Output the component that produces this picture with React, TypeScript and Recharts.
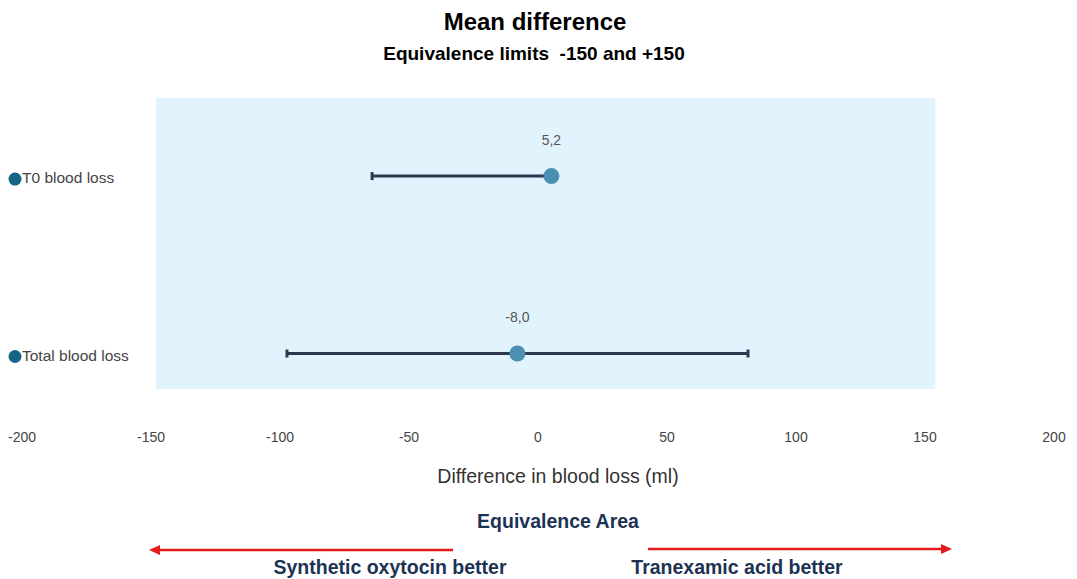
import {
  ScatterChart,
  Scatter,
  XAxis,
  YAxis,
  ErrorBar,
  ReferenceArea,
} from "recharts"

const categories = ["T0 blood loss", "Total blood loss"]
const meanDiff = [5.2, -8.0]
const ciLower = [-64.3, -97.3]
const ciUpper = [5.2, 81.4]
const xTicks = [-200, -150, -100, -50, 0, 50, 100, 150, 200]
const shadeFrom = -148
const shadeTo = 154

const rows = categories.map((name, i) => ({
  name,
  row: i,
  mean: meanDiff[i],
  err: [meanDiff[i] - ciLower[i], ciUpper[i] - meanDiff[i]],
  label: meanDiff[i].toFixed(1).replace(".", ","),
}))

const FONT = '"Liberation Sans", Arial, sans-serif'
const NAVY = "#1c3354"
const RED = "#e31b1b"

function RowTick({ y, payload }: { y?: number; payload?: { value: number } }) {
  const name = categories[payload?.value ?? 0]
  return (
    <g>
      <circle cx={15} cy={(y ?? 0) + 3} r={6.5} fill="#156587" />
      <text x={22} y={(y ?? 0) + 2} dy="0.35em" fontSize={15.5} fill="#444" fontFamily={FONT}>
        {name}
      </text>
    </g>
  )
}

function Dot(props: { cx?: number; cy?: number; payload?: { label: string } }) {
  const { cx = 0, cy = 0, payload } = props
  return (
    <g>
      <circle cx={cx} cy={cy} r={8} fill="#4c8fb3" />
      <text x={cx} y={cy - 36} dy="0.35em" textAnchor="middle" fontSize={14} fill="#555" fontFamily={FONT}>
        {payload?.label}
      </text>
    </g>
  )
}

export default function App() {
  return (
    <div style={{ position: "relative", width: 1077, height: 579, fontFamily: FONT, background: "#fff" }}>
      <style>{"body{margin:0}"}</style>
      <ScatterChart width={1077} height={579} margin={{ top: 98, right: 23, bottom: 90, left: 0 }}>
        <ReferenceArea x1={shadeFrom} x2={shadeTo} fill="#e1f4fd" fillOpacity={1} stroke="none" ifOverflow="extendDomain" />
        <XAxis
          type="number"
          dataKey="mean"
          domain={[-200, 200]}
          ticks={xTicks}
          allowDataOverflow
          axisLine={false}
          tickLine={false}
          tickMargin={37}
          height={100}
          tick={{ fontSize: 14, fill: "#444", fontFamily: FONT }}
          label={{
            value: "Difference in blood loss (ml)",
            position: "insideBottom",
            offset: 6,
            dx: 20,
            fontSize: 19.5,
            fill: "#333",
            fontFamily: FONT,
          }}
        />
        <YAxis
          type="number"
          dataKey="row"
          domain={[-0.44, 1.2]}
          reversed
          ticks={[0, 1]}
          width={22}
          axisLine={false}
          tickLine={false}
          tick={<RowTick />}
        />
        <Scatter data={rows} shape={<Dot />} isAnimationActive={false}>
          <ErrorBar dataKey="err" direction="x" stroke="#2a3a4f" strokeWidth={3} width={4} />
        </Scatter>
      </ScatterChart>
      <svg
        width={1077}
        height={579}
        style={{ position: "absolute", left: 0, top: 0, pointerEvents: "none" }}
        fontFamily={FONT}
      >
        <text x={535} y={22} dy="0.35em" textAnchor="middle" fontSize={24} fontWeight="bold" fill="#000">
          Mean difference
        </text>
        <text x={534} y={53} dy="0.35em" textAnchor="middle" fontSize={19} fontWeight="bold" fill="#000">
          {"Equivalence limits\u00a0 -150 and +150"}
        </text>
        <text x={558} y={521} dy="0.35em" textAnchor="middle" fontSize={19.5} fontWeight="bold" fill={NAVY}>
          Equivalence Area
        </text>
        <line x1={453} y1={550} x2={158} y2={550} stroke={RED} strokeWidth={2.5} />
        <polygon points="149,550 160,545 160,555" fill={RED} />
        <line x1={648} y1={549} x2={943} y2={549} stroke={RED} strokeWidth={2.5} />
        <polygon points="952,549 941,544 941,554" fill={RED} />
        <text x={390} y={567} dy="0.35em" textAnchor="middle" fontSize={19.5} fontWeight="bold" fill={NAVY}>
          Synthetic oxytocin better
        </text>
        <text x={737} y={567} dy="0.35em" textAnchor="middle" fontSize={19.5} fontWeight="bold" fill={NAVY}>
          Tranexamic acid better
        </text>
      </svg>
    </div>
  )
}
